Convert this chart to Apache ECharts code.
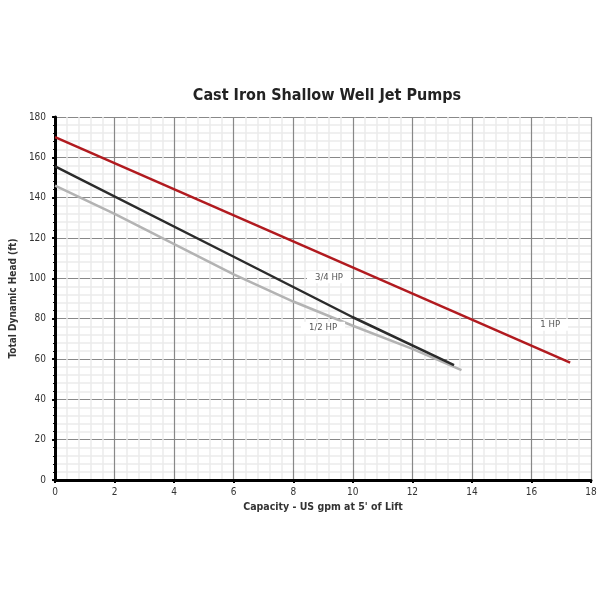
<!DOCTYPE html>
<html><head><meta charset="utf-8">
<script src="https://cdn.jsdelivr.net/npm/echarts@6/dist/echarts.min.js"></script>
<style>html,body{margin:0;padding:0;background:#fff}#c{width:600px;height:600px}</style>
</head><body><div id="c"></div>
<script>
const titleText = 'Cast Iron Shallow Well Jet Pumps';
const xName = "Capacity - US gpm at 5' of Lift";
const yName = 'Total Dynamic Head (ft)';
const seriesNames = ['1 HP', '3/4 HP', '1/2 HP'];
const hp1 = [[0, 170], [17.3, 58.2]];
const hp34 = [[0, 155.5], [6, 110.7], [10, 80.7], [13.4, 57]];
const hp12 = [[0, 146], [2, 132], [4, 117], [6, 102], [8, 88.5], [10, 76.5], [12, 65], [13.65, 54.5]];
const labelCoords = [[16.63, 77], [9.2, 100.5], [9, 75.5]];
const colors = ['#b11a1f', '#2b2b2b', '#b3b3b3'];
const font = "'DejaVu Sans Condensed', 'Liberation Sans Narrow', sans-serif";

const chart = echarts.init(document.getElementById('c'));
const datas = [hp1, hp34, hp12];
chart.setOption({
  animation: false,
  title: { text: titleText, left: 322, top: 83, textAlign: 'center',
    textStyle: { fontFamily: font, fontSize: 16, fontWeight: 'bold', color: '#222' } },
  grid: { left: 51, right: 9, top: 117, bottom: 120 },
  xAxis: {
    type: 'value', min: 0, max: 18, interval: 2,
    name: xName, nameLocation: 'middle', nameGap: 22,
    nameTextStyle: { fontFamily: font, fontSize: 10.5, fontWeight: 'bold', color: '#333' },
    axisLine: { show: true, onZero: false, lineStyle: { color: '#000', width: 3 } },
    axisTick: { show: true, length: 3, inside: false, lineStyle: { color: '#000', width: 2 } },
    minorTick: { show: false },
    axisLabel: { fontFamily: font, fontSize: 10, color: '#333', margin: 7 },
    splitLine: { show: true, lineStyle: { color: '#888', width: 1.2 } },
    minorSplitLine: { show: true, lineStyle: { color: '#ebebeb', width: 1.5 } }
  },
  yAxis: {
    type: 'value', min: 0, max: 180, interval: 20,
    name: yName, nameLocation: 'middle', nameGap: 37, nameRotate: 90,
    nameTextStyle: { fontFamily: font, fontSize: 10, fontWeight: 'bold', color: '#333' },
    axisLine: { show: true, onZero: false, lineStyle: { color: '#000', width: 3 } },
    axisTick: { show: true, length: 3, lineStyle: { color: '#000', width: 2 } },
    minorTick: { show: true, splitNumber: 5, length: 2, lineStyle: { color: '#000', width: 1 } },
    axisLabel: { fontFamily: font, fontSize: 10, color: '#333', margin: 9 },
    splitLine: { show: true, lineStyle: { color: '#888', width: 1.2 } },
    minorSplitLine: { show: true, lineStyle: { color: '#ebebeb', width: 1.5 } }
  },
  series: datas.map((d, i) => ({
    type: 'line', name: seriesNames[i], data: d, symbol: 'none', z: 3 - i + 2,
    lineStyle: { color: colors[i], width: 2.5 },
    markPoint: {
      symbol: 'rect', symbolSize: 1, itemStyle: { color: 'rgba(0,0,0,0)' },
      data: [{ coord: labelCoords[i], value: seriesNames[i] }],
      label: { show: true, position: 'inside', formatter: seriesNames[i], fontFamily: font,
        fontSize: 9.5, color: '#555', backgroundColor: '#fff', padding: [1, 8, 1, 8] }
    }
  }))
});
</script></body></html>
